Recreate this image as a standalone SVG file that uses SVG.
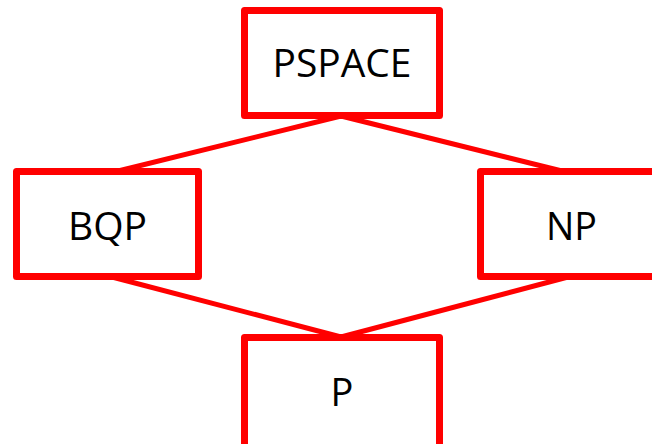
<svg xmlns="http://www.w3.org/2000/svg" width="652" height="444" viewBox="0 0 652 444">
<style>
.box{fill:#fff;stroke:#ff0000;stroke-width:7;stroke-linejoin:round}
.edge{stroke:#ff0000;stroke-width:5;fill:none}
.lbl{font-family:"Open Sans","Liberation Sans",sans-serif;font-size:38px;fill:#000;text-anchor:middle}
</style>
<rect width="652" height="444" fill="#fff"/>
<g id="connectors">
<line class="edge" x1="341" y1="116" x2="114" y2="172"/>
<line class="edge" x1="341" y1="116" x2="566" y2="172"/>
<line class="edge" x1="112" y1="277" x2="341" y2="337"/>
<line class="edge" x1="568" y1="277" x2="341" y2="337"/>
</g>
<g id="pspace">
<rect class="box" x="244.5" y="10.5" width="195" height="105"/>
<text class="lbl" x="342" y="77" textLength="139" lengthAdjust="spacingAndGlyphs">PSPACE</text>
</g>
<g id="bqp">
<rect class="box" x="16.5" y="171.5" width="182" height="105"/>
<text class="lbl" x="107.5" y="240" textLength="79" lengthAdjust="spacingAndGlyphs">BQP</text>
</g>
<g id="np">
<rect class="box" x="480.5" y="171.5" width="190" height="105"/>
<text class="lbl" x="571.5" y="240" textLength="51" lengthAdjust="spacingAndGlyphs">NP</text>
</g>
<g id="p">
<rect class="box" x="244.5" y="337.5" width="195" height="120"/>
<text class="lbl" x="342" y="406">P</text>
</g>
</svg>
